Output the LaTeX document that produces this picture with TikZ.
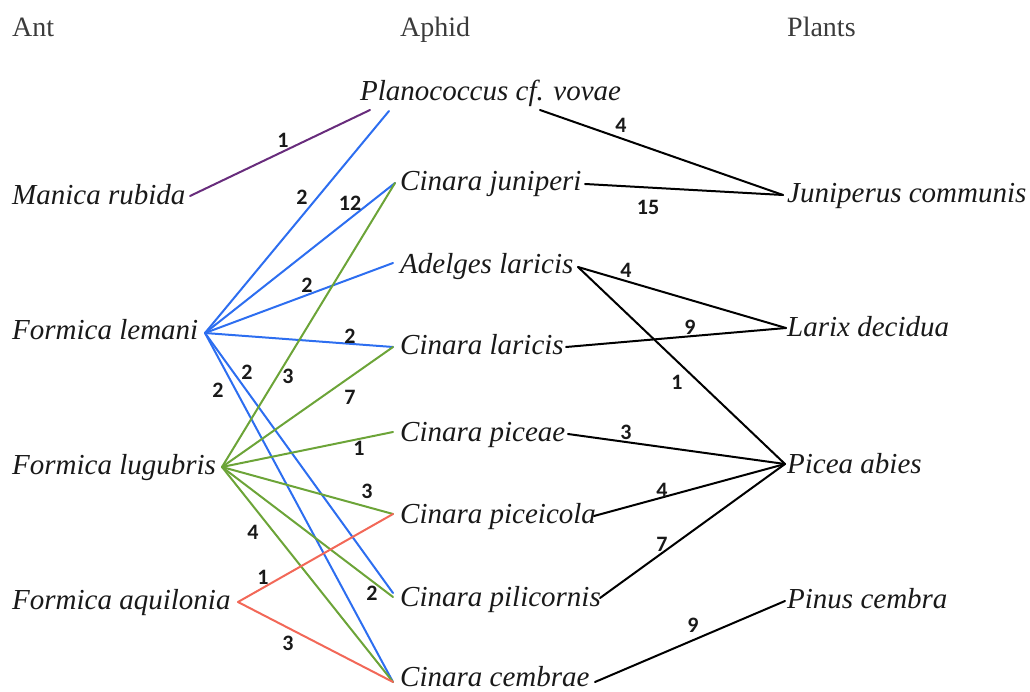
\documentclass[tikz,border=0pt]{standalone}
\usepackage{fontspec}
\setmainfont{Liberation Serif}
\newfontfamily\numfont{Carlito}
\definecolor{cpurple}{RGB}{104,44,124}
\definecolor{cblue}{RGB}{45,110,240}
\definecolor{cgreen}{RGB}{108,164,56}
\definecolor{cred}{RGB}{242,104,88}
\definecolor{ctext}{RGB}{25,25,25}
\tikzset{
  taxon/.style={anchor=base west,inner sep=0pt,font=\fontsize{29}{30}\selectfont\itshape,text=ctext},
  header/.style={anchor=base west,inner sep=0pt,font=\fontsize{28}{30}\selectfont,text=ctext!85},
  count/.style={inner sep=0pt,font=\fontsize{22}{24}\selectfont\numfont\bfseries,text=ctext},
  linkln/.style={line width=2pt,line cap=round},
}
\begin{document}
\begin{tikzpicture}[x=1pt,y=-1pt]
\useasboundingbox (0,0) rectangle (1030,692);
% headers
\node[header] (hAnt) at (12,37) {Ant};
\node[header] (hAphid) at (400,37) {Aphid};
\node[header] (hPlants) at (787,37) {Plants};
% ants
\node[taxon] (mr) at (12,205) {Manica rubida};
\node[taxon] (fle) at (12,340) {Formica lemani};
\node[taxon] (flu) at (12,474) {Formica lugubris};
\node[taxon] (faq) at (12,609) {Formica aquilonia};
% aphids
\node[taxon] (pv) at (360,101) {Planococcus cf. vovae};
\node[taxon] (cj) at (400,191) {Cinara juniperi};
\node[taxon] (al) at (400,274) {Adelges laricis};
\node[taxon] (cl) at (400,355) {Cinara laricis};
\node[taxon] (cpe) at (400,441) {Cinara piceae};
\node[taxon] (cpc) at (400,523) {Cinara piceicola};
\node[taxon] (cpi) at (400,606) {Cinara pilicornis};
\node[taxon] (cc) at (400,686) {Cinara cembrae};
% plants
\node[taxon] (jc) at (787,203) {Juniperus communis};
\node[taxon] (ld) at (787,337) {Larix decidua};
\node[taxon] (pa) at (787,473) {Picea abies};
\node[taxon] (pc) at (787,608) {Pinus cembra};
% connector end points
\coordinate (mrE) at (190,196);
\coordinate (fleE) at (205,333);
\coordinate (fluE) at (222,467);
\coordinate (faqE) at (238,602);
\coordinate (pvW1) at (370,110);
\coordinate (pvW2) at (389,111);
\coordinate (pvE) at (540,110);
\coordinate (cjW) at (395,183);
\coordinate (cjE) at (585,184);
\coordinate (alW) at (393,263);
\coordinate (alE) at (578,267);
\coordinate (clW) at (393,347);
\coordinate (clE) at (566,347);
\coordinate (cpeW) at (393,432);
\coordinate (cpeE) at (568,434);
\coordinate (cpcW) at (393,514);
\coordinate (cpcE) at (594,516);
\coordinate (cpiW1) at (393,593);
\coordinate (cpiW2) at (393,597);
\coordinate (cpiE) at (600,598);
\coordinate (ccW) at (393,682);
\coordinate (ccE) at (595,682);
\coordinate (jcW) at (783,195);
\coordinate (ldW) at (786,328);
\coordinate (paW) at (785,464);
\coordinate (pcW) at (785,601);
% purple
\draw[linkln,cpurple] (mrE) -- (pvW1);
% blue
\draw[linkln,cblue] (fleE) -- (pvW2);
\draw[linkln,cblue] (fleE) -- (cjW);
\draw[linkln,cblue] (fleE) -- (alW);
\draw[linkln,cblue] (fleE) -- (clW);
\draw[linkln,cblue] (fleE) -- (cpiW1);
\draw[linkln,cblue] (fleE) -- (ccW);
% green
\draw[linkln,cgreen] (fluE) -- (cjW);
\draw[linkln,cgreen] (fluE) -- (clW);
\draw[linkln,cgreen] (fluE) -- (cpeW);
\draw[linkln,cgreen] (fluE) -- (cpcW);
\draw[linkln,cgreen] (fluE) -- (cpiW2);
\draw[linkln,cgreen] (fluE) -- (ccW);
% red
\draw[linkln,cred] (faqE) -- (cpcW);
\draw[linkln,cred] (faqE) -- (ccW);
% black
\draw[linkln,black] (pvE) -- (jcW);
\draw[linkln,black] (cjE) -- (jcW);
\draw[linkln,black] (alE) -- (ldW);
\draw[linkln,black] (alE) -- (paW);
\draw[linkln,black] (clE) -- (ldW);
\draw[linkln,black] (cpeE) -- (paW);
\draw[linkln,black] (cpcE) -- (paW);
\draw[linkln,black] (cpiE) -- (paW);
\draw[linkln,black] (ccE) -- (pcW);
% numbers
\node[count] (n1) at (283,140) {1};
\node[count] (n2) at (302,197) {2};
\node[count] (n3) at (350,203) {12};
\node[count] (n4) at (307,285) {2};
\node[count] (n5) at (350,336) {2};
\node[count] (n6) at (247,372) {2};
\node[count] (n7) at (218,390) {2};
\node[count] (n8) at (288,376) {3};
\node[count] (n9) at (350,397) {7};
\node[count] (n10) at (359,448) {1};
\node[count] (n11) at (367,491) {3};
\node[count] (n12) at (253,532) {4};
\node[count] (n13) at (263,577) {1};
\node[count] (n14) at (372,593) {2};
\node[count] (n15) at (288,643) {3};
\node[count] (n16) at (621,125) {4};
\node[count] (n17) at (648,207) {15};
\node[count] (n18) at (626,270) {4};
\node[count] (n19) at (690,327) {9};
\node[count] (n20) at (677,382) {1};
\node[count] (n21) at (626,432) {3};
\node[count] (n22) at (662,490) {4};
\node[count] (n23) at (662,544) {7};
\node[count] (n24) at (693,625) {9};
\end{tikzpicture}
\end{document}
